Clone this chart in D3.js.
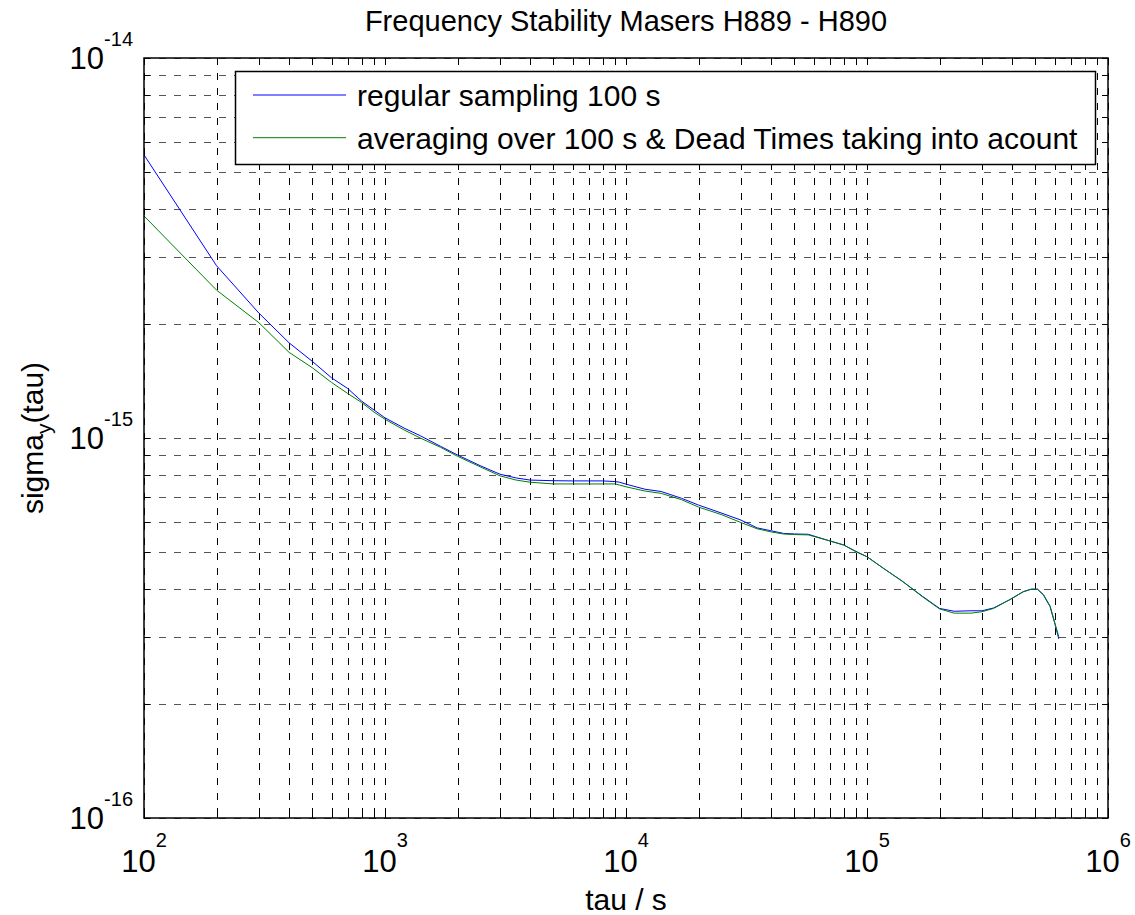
<!DOCTYPE html>
<html>
<head>
<meta charset="utf-8">
<script src="https://cdn.jsdelivr.net/npm/d3@7"></script>
<style>
  body { margin: 0; background: #fff; }
  text { font-family: "Liberation Sans", Arial, Helvetica, sans-serif; fill: #000; }
</style>
</head>
<body>
<div id="chart"></div>
<script>
// tau in seconds
const tau = [100, 200, 300, 400, 500, 600, 700, 800, 900, 1000, 1200, 1400, 1700, 2000, 2500, 3000, 3500, 4000,
    5000, 6000, 7000, 8000, 9000, 9400, 10000, 12000, 14000, 17000, 20000, 25000, 30000, 35000, 40000, 45000,
    50000, 57000, 68000, 80000, 90000, 100000, 117000, 140000, 170000, 200000, 230000, 270000, 300000, 335000,
    390000, 445000, 480000, 510000, 540000, 575000, 600000, 625000];

// sigma_y in units of 1e-15
const regular = [5.56, 2.84, 2.13, 1.78, 1.59, 1.44, 1.35, 1.25, 1.185, 1.13, 1.062, 1.014, 0.951, 0.902, 0.844, 0.803, 0.785, 0.775,
    0.772, 0.771, 0.771, 0.771, 0.768, 0.765, 0.756, 0.733, 0.723, 0.694, 0.666, 0.634, 0.608, 0.580, 0.570, 0.561,
    0.559, 0.558, 0.539, 0.523, 0.503, 0.487, 0.454, 0.420, 0.383, 0.356, 0.350, 0.351, 0.351, 0.357,
    0.375, 0.394, 0.400, 0.400, 0.386, 0.360, 0.327, 0.296];

const averaged = [3.84, 2.45, 2.01, 1.68, 1.53, 1.40, 1.31, 1.24, 1.17, 1.12, 1.05, 1.00, 0.945, 0.895, 0.838, 0.795, 0.775, 0.765,
    0.757, 0.757, 0.757, 0.757, 0.757, 0.752, 0.744, 0.725, 0.715, 0.688, 0.658, 0.628, 0.599, 0.577, 0.566, 0.559,
    0.557, 0.556, 0.539, 0.523, 0.502, 0.487, 0.454, 0.420, 0.382, 0.355, 0.346, 0.346, 0.349, 0.356,
    0.375, 0.394, 0.400, 0.400, 0.387, 0.361, 0.328, 0.300];

const series = [
    { name: "regular sampling 100 s", values: regular, color: "#0000ff" },
    { name: "averaging over 100 s & Dead Times taking into acount", values: averaged, color: "#008000" }
];

const xDecades = [2, 3, 4, 5, 6];
const yDecades = [-16, -15, -14];

const width = 1135, height = 915;
const margin = { left: 144, right: 27, top: 58, bottom: 97 };

const svg = d3.select("#chart").append("svg")
    .attr("width", width)
    .attr("height", height);

svg.append("rect").attr("width", width).attr("height", height).attr("fill", "#fff");

const x = d3.scaleLog().domain([1e2, 1e6]).range([margin.left, width - margin.right]);
const y = d3.scaleLog().domain([1e-16, 1e-14]).range([height - margin.bottom, margin.top]);

const x0 = x.range()[0], x1 = x.range()[1], y0 = y.range()[0], y1 = y.range()[1];

function logGrid(decades) {
    const out = [];
    decades.forEach((k, i) => {
        if (i === decades.length - 1) { out.push(Math.pow(10, k)); return; }
        for (let m = 1; m <= 9; m++) out.push(m * Math.pow(10, k));
    });
    return out;
}
const xGrid = logGrid(xDecades);
const yGrid = logGrid(yDecades);

// grid
const grid = svg.append("g").attr("stroke", "#000").attr("stroke-width", 1)
    .attr("stroke-dasharray", "7,8").attr("shape-rendering", "crispEdges");
grid.selectAll(".vg").data(xGrid).enter().append("line")
    .attr("x1", d => Math.round(x(d)) + 0.5).attr("x2", d => Math.round(x(d)) + 0.5)
    .attr("y1", y1).attr("y2", y0);
grid.selectAll(".hg").data(yGrid).enter().append("line")
    .attr("stroke", "#555")
    .attr("y1", d => Math.round(y(d)) + 0.5).attr("y2", d => Math.round(y(d)) + 0.5)
    .attr("x1", x0).attr("x2", x1);

// ticks (inside, all four sides)
const tk = svg.append("g").attr("stroke", "#000").attr("stroke-width", 1).attr("shape-rendering", "crispEdges");
xGrid.forEach(d => {
    const px = Math.round(x(d)) + 0.5;
    tk.append("line").attr("x1", px).attr("x2", px).attr("y1", y0).attr("y2", y0 - 6);
    tk.append("line").attr("x1", px).attr("x2", px).attr("y1", y1).attr("y2", y1 + 6);
});
yGrid.forEach(d => {
    const py = Math.round(y(d)) + 0.5;
    tk.append("line").attr("y1", py).attr("y2", py).attr("x1", x0).attr("x2", x0 + 6);
    tk.append("line").attr("y1", py).attr("y2", py).attr("x1", x1).attr("x2", x1 - 6);
});

// curves
const line = d3.line()
    .x((d, i) => x(tau[i]))
    .y(d => y(d * 1e-15));

svg.append("g").selectAll("path").data(series).enter().append("path")
    .attr("fill", "none")
    .attr("stroke", d => d.color)
    .attr("stroke-width", 1)
    .attr("d", d => line(d.values));

// frame
svg.append("rect")
    .attr("x", x0).attr("y", y1)
    .attr("width", x1 - x0).attr("height", y0 - y1)
    .attr("fill", "none").attr("stroke", "#000").attr("stroke-width", 1.5);

// tick labels
xDecades.forEach(k => {
    const t = svg.append("text")
        .attr("x", x(Math.pow(10, k)))
        .attr("y", y0 + 54)
        .attr("text-anchor", "middle")
        .attr("font-size", 31);
    t.append("tspan").text("10");
    t.append("tspan").attr("font-size", 20).attr("dy", -25).text(k);
});
yDecades.forEach(k => {
    const t = svg.append("text")
        .attr("x", x0 - 11)
        .attr("y", y(Math.pow(10, k)) + 11)
        .attr("text-anchor", "end")
        .attr("font-size", 31);
    t.append("tspan").text("10");
    t.append("tspan").attr("font-size", 20).attr("dy", -23).text(k);
});

// title and axis labels
svg.append("text")
    .attr("x", (x0 + x1) / 2).attr("y", 31)
    .attr("text-anchor", "middle").attr("font-size", 29)
    .text("Frequency Stability Masers H889 - H890");

svg.append("text")
    .attr("x", (x0 + x1) / 2).attr("y", 910)
    .attr("text-anchor", "middle").attr("font-size", 30)
    .text("tau / s");

const yl = svg.append("text")
    .attr("transform", `translate(43,${(y0 + y1) / 2}) rotate(-90)`)
    .attr("text-anchor", "middle").attr("font-size", 30);
yl.append("tspan").text("sigma");
yl.append("tspan").attr("font-size", 21).attr("dy", 8).text("y");
yl.append("tspan").attr("dy", -8).text("(tau)");

// legend
const lg = svg.append("g");
lg.append("rect")
    .attr("x", 235.5).attr("y", 71.5).attr("width", 860).attr("height", 93)
    .attr("fill", "#fff").attr("stroke", "#000").attr("stroke-width", 1.5);
series.forEach((s, i) => {
    const ly = 95 + i * 42.7;
    lg.append("line").attr("x1", 253).attr("x2", 346).attr("y1", ly).attr("y2", ly)
        .attr("stroke", s.color).attr("stroke-width", 1);
    lg.append("text").attr("x", 357).attr("y", ly + 11).attr("font-size", 30).text(s.name);
});
</script>
</body>
</html>
